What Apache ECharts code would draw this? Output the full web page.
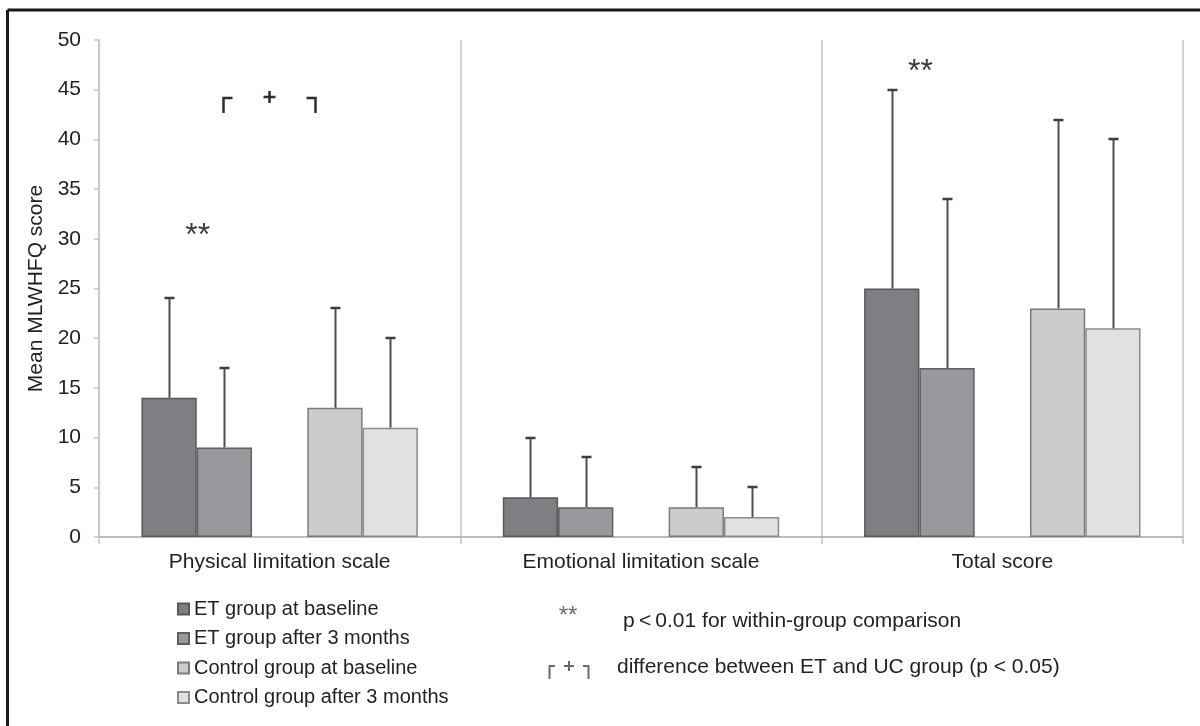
<!DOCTYPE html>
<html>
<head>
<meta charset="utf-8">
<script src="https://cdn.jsdelivr.net/npm/echarts@6/dist/echarts.min.js"></script>
<style>
html,body{margin:0;padding:0;background:#fff;}
#chart{width:1200px;height:726px;}
</style>
</head>
<body>
<div id="chart"></div>
<script>
// ---- data ----
const categories = ['Physical limitation scale', 'Emotional limitation scale', 'Total score'];
const seriesNames = ['ET group at baseline', 'ET group after 3 months', 'Control group at baseline', 'Control group after 3 months'];
const etBaseline = [14, 4, 25];
const etAfter = [9, 3, 17];
const ctrlBaseline = [13, 3, 23];
const ctrlAfter = [11, 2, 21];
// upper end of error bars
const etBaselineTop = [24, 10, 45];
const etAfterTop = [17, 8, 34];
const ctrlBaselineTop = [23, 7, 42];
const ctrlAfterTop = [20, 5, 40];
const yTicks = [0, 50, 5]; // min, max, interval
// significance annotations '**' (category, value)
const starCats = [0, 2];
const starValues = [30.3, 46.8];
// bracket annotation (ET vs UC difference)
const bracketCat = [0];
const bracketTop = [44.2];
const bracketBottom = [42.7];

// ---- styling ----
const fills = ['#7e7f83', '#98999d', '#cbccce', '#e0e1e3'];
const borders = ['#58585a', '#5e5f61', '#7a7b7d', '#8a8b8d'];
const txt = '#231f20';
const GAP = 0.235;
const NSLOT = 5;
const FS = 21;
const LFS = 20;

const groups = [etBaseline, etAfter, null, ctrlBaseline, ctrlAfter];
const tops = [etBaselineTop, etAfterTop, null, ctrlBaselineTop, ctrlAfterTop];

const series = [];
let gi = 0;
groups.forEach((arr, slot) => {
  if (arr === null) {
    series.push({type: 'bar', name: '__spacer', data: categories.map(() => null),
      barGap: '0%', barCategoryGap: (GAP * 100) + '%', silent: true});
  } else {
    const k = gi++;
    series.push({
      type: 'bar', name: seriesNames[k], data: arr,
      barGap: '0%', barCategoryGap: (GAP * 100) + '%',
      itemStyle: {color: fills[k], borderColor: borders[k], borderWidth: 1.5}
    });
  }
});

const errData = [];
groups.forEach((arr, slot) => {
  if (!arr) return;
  arr.forEach((v, i) => errData.push([i, slot, v, tops[slot][i]]));
});

function slotX(api, i, slot) {
  const c = api.coord([i, 0]);
  const band = api.size([1, 0])[0];
  const bw = band * (1 - GAP) / NSLOT;
  return c[0] + (slot - (NSLOT - 1) / 2) * bw;
}

series.push({
  type: 'custom', name: 'err', z: 5,
  data: errData,
  encode: {x: 0, y: 3},
  renderItem: function (params, api) {
    const i = api.value(0), slot = api.value(1), v = api.value(2), t = api.value(3);
    const x = Math.round(slotX(api, i, slot)) + 0.5;
    const yb = api.coord([i, v])[1];
    const yt = Math.round(api.coord([i, t])[1]);
    return {type: 'group', children: [
      {type: 'line', shape: {x1: x, y1: yb, x2: x, y2: yt}, style: {stroke: '#4e4e50', lineWidth: 2}},
      {type: 'line', shape: {x1: x - 5, y1: yt, x2: x + 5, y2: yt}, style: {stroke: '#3e3e40', lineWidth: 2.5}}
    ]};
  }
});

series.push({
  type: 'custom', name: 'stars', z: 6,
  data: starCats.map((c, k) => [c, starValues[k]]),
  encode: {x: 0, y: 1},
  renderItem: function (params, api) {
    const i = api.value(0), v = api.value(1);
    const x = slotX(api, i, 0.5) + 1;
    const y = api.coord([i, v])[1];
    return {type: 'text', x: x, y: y, style: {text: '**', fill: '#3a3a3c', font: '32px "Liberation Sans", Arial, sans-serif', textAlign: 'center', textVerticalAlign: 'middle'}};
  }
});

series.push({
  type: 'custom', name: 'bracket', z: 6,
  data: bracketCat.map((c, k) => [c, bracketTop[k], bracketBottom[k]]),
  encode: {x: 0, y: 1},
  renderItem: function (params, api) {
    const i = api.value(0);
    const yT = Math.round(api.coord([i, api.value(1)])[1]);
    const yB = Math.round(api.coord([i, api.value(2)])[1]);
    const xl = Math.round(slotX(api, i, 1)) - 0.5;
    const xr = xl + 92;
    const xp = (xl + xr) / 2;
    const st = {stroke: '#2e2e30', lineWidth: 2.5, fill: null};
    return {type: 'group', children: [
      {type: 'polyline', shape: {points: [[xl, yB], [xl, yT], [xl + 9, yT]]}, style: st},
      {type: 'polyline', shape: {points: [[xr - 9, yT], [xr, yT], [xr, yB]]}, style: st},
      {type: 'line', shape: {x1: xp - 6, y1: yT - 1, x2: xp + 6, y2: yT - 1}, style: st},
      {type: 'line', shape: {x1: xp, y1: yT - 7, x2: xp, y2: yT + 5}, style: st}
    ]};
  }
});

const chart = echarts.init(document.getElementById('chart'), null, {renderer: 'canvas'});
const font = '"Liberation Sans", Arial, Helvetica, sans-serif';
chart.setOption({
  animation: false,
  backgroundColor: '#fff',
  textStyle: {fontFamily: font},
  grid: {left: 99, right: 17, top: 40, bottom: 189, containLabel: false},
  legend: {
    data: seriesNames,
    orient: 'vertical', left: 177, top: 598, padding: 0,
    itemWidth: 11, itemHeight: 11, itemGap: 7.5,
    icon: 'rect',
    textStyle: {fontSize: LFS, color: txt, fontFamily: font, lineHeight: 22},
    selectedMode: false
  },
  xAxis: {
    type: 'category', data: categories, boundaryGap: true,
    axisLine: {lineStyle: {color: '#a8a8aa', width: 1.5}},
    axisTick: {show: true, length: 7, lineStyle: {color: '#c4c4c6', width: 1.5}},
    splitLine: {show: true, lineStyle: {color: '#c4c4c6', width: 1.5}},
    axisLabel: {fontSize: FS, color: txt, margin: 15, fontFamily: font}
  },
  yAxis: {
    type: 'value', min: yTicks[0], max: yTicks[1], interval: yTicks[2],
    name: 'Mean MLWHFQ score', nameLocation: 'middle', nameGap: 48,
    nameTextStyle: {fontSize: FS, color: txt, fontFamily: font},
    axisLine: {show: true, lineStyle: {color: '#c4c4c6', width: 1.5}},
    axisTick: {show: true, length: 5, lineStyle: {color: '#c4c4c6', width: 1.5}},
    splitLine: {show: false},
    axisLabel: {fontSize: FS, color: txt, margin: 18, fontFamily: font}
  },
  graphic: [
    {type: 'line', shape: {x1: 7.5, y1: 10, x2: 1200, y2: 10}, style: {stroke: '#1a1a1a', lineWidth: 3}},
    {type: 'line', shape: {x1: 7.5, y1: 10, x2: 7.5, y2: 726}, style: {stroke: '#1a1a1a', lineWidth: 3}},
    {type: 'text', x: 568, y: 616, style: {text: '**', fill: '#707072', font: '24px ' + font, textAlign: 'center', textVerticalAlign: 'middle'}},
    {type: 'text', x: 623, y: 621, style: {text: 'p\u2009<\u20090.01 for within-group comparison', fill: txt, font: FS + 'px ' + font, textAlign: 'left', textVerticalAlign: 'middle'}},
    {type: 'polyline', shape: {points: [[549.5, 679], [549.5, 666], [555, 666]]}, style: {stroke: '#6a6a6c', lineWidth: 2, fill: null}},
    {type: 'polyline', shape: {points: [[583, 666], [588.5, 666], [588.5, 679]]}, style: {stroke: '#6a6a6c', lineWidth: 2, fill: null}},
    {type: 'line', shape: {x1: 564, y1: 666, x2: 574, y2: 666}, style: {stroke: '#6a6a6c', lineWidth: 2}},
    {type: 'line', shape: {x1: 569, y1: 661, x2: 569, y2: 671}, style: {stroke: '#6a6a6c', lineWidth: 2}},
    {type: 'text', x: 617, y: 667, style: {text: 'difference between ET and UC group (p < 0.05)', fill: txt, font: FS + 'px ' + font, textAlign: 'left', textVerticalAlign: 'middle'}}
  ],
  series: series
});
</script>
</body>
</html>
